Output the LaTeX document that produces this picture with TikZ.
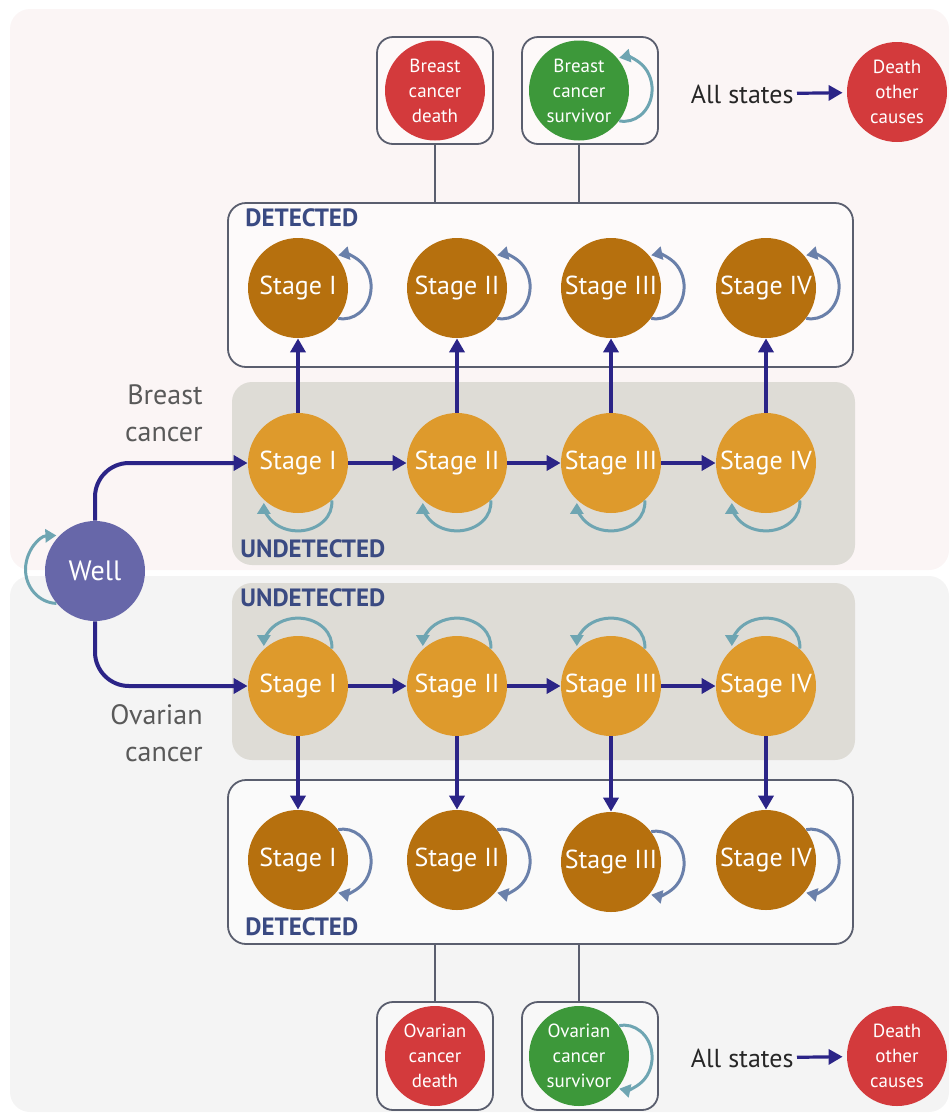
\documentclass[tikz,border=0pt]{standalone}
\usepackage{fontspec}
\setmainfont{PT Sans}
\usetikzlibrary{arrows.meta, positioning, shapes.geometric}

\definecolor{navy}{HTML}{2B2487}
\definecolor{detfill}{HTML}{B6700E}
\definecolor{undfill}{HTML}{DE9A2C}
\definecolor{wellfill}{HTML}{6767A9}
\definecolor{deadred}{HTML}{D33A3C}
\definecolor{survgreen}{HTML}{3D983A}
\definecolor{loopblue}{HTML}{6A80AA}
\definecolor{loopteal}{HTML}{6EA5B2}
\definecolor{labelblue}{HTML}{3A4A82}
\definecolor{boxline}{HTML}{5A5E6E}
\definecolor{undbox}{HTML}{DEDCD6}
\definecolor{pinkbg}{HTML}{FBF5F5}
\definecolor{greybg}{HTML}{F4F4F4}

\tikzstyle{arrow} = [line width=2pt, navy, -{Triangle[length=7pt,width=7.5pt]}]
\tikzstyle{selfloop} = [line width=1.5pt, loopblue, -{Triangle[length=5.5pt,width=6.5pt]}]
\tikzstyle{selfloop_T} = [selfloop, loopteal]
\tikzstyle{detected} = [
    circle, minimum size=50pt, inner sep=0pt, fill=detfill,
    text=white, font=\fontsize{13}{16}\selectfont
]
\tikzstyle{undetected} = [detected, fill=undfill]
\tikzstyle{outcome} = [
    circle, minimum size=50pt, inner sep=0pt, fill=deadred, align=center,
    text=white, font=\fontsize{9.5}{12.5}\selectfont
]
\tikzstyle{outcome_S} = [outcome, fill=survgreen]
\tikzstyle{stagebox} = [rectangle, rounded corners=9pt, draw=boxline, line width=0.9pt]
\tikzstyle{outbox} = [rectangle, rounded corners=8pt, draw=boxline, line width=0.9pt, fill=white!40!pinkbg]
\tikzstyle{undframe} = [rectangle, rounded corners=10pt, fill=undbox]
\tikzstyle{boxlabel} = [anchor=west, inner sep=0pt, text=labelblue, font=\fontsize{12.5}{14}\selectfont\bfseries]
\tikzstyle{cancerlabel} = [anchor=east, align=right, inner sep=0pt, text=black!65, font=\fontsize{14}{18.5}\selectfont]
\tikzstyle{tieline} = [line width=0.9pt, boxline]
\tikzstyle{allstates} = [anchor=east, inner sep=1.5pt, text=black!85, font=\fontsize{13}{15}\selectfont]

\begin{document}
\begin{tikzpicture}[x=0.5pt, y=0.5pt]
\useasboundingbox (0,0) rectangle (949,-1115);
% Fundos
\fill[pinkbg, rounded corners=10pt] (10,-9) rectangle (949,-570);
\fill[greybg, rounded corners=10pt] (10,-576) rectangle (949,-1112);

% Caixas
\node (TD_box) [stagebox, fill=white!50!pinkbg, minimum width=312.5pt, minimum height=82pt] at (540.5,-285) {};
\node (TU_box) [undframe, minimum width=311.5pt, minimum height=91.5pt] at (543.5,-473.5) {};
\node (BU_box) [undframe, minimum width=311.5pt, minimum height=88.5pt] at (543.5,-671.5) {};
\node (BD_box) [stagebox, fill=white!50!greybg, minimum width=312.5pt, minimum height=82pt] at (540.5,-862) {};
\node (TD_tag) [boxlabel] at (245,-218) {DETECTED};
\node (TU_tag) [boxlabel] at (240,-549) {UNDETECTED};
\node (BU_tag) [boxlabel] at (240,-598) {UNDETECTED};
\node (BD_tag) [boxlabel] at (245,-927) {DETECTED};

% Estados
\node (Well) [detected, fill=wellfill, font=\fontsize{14}{16}\selectfont] at (95,-571) {Well};
\node (BC_lbl) [cancerlabel] at (203,-413) {Breast\\cancer};
\node (OC_lbl) [cancerlabel] at (203,-733) {Ovarian\\cancer};

\node (TD_1) [detected] at (298,-288) {Stage I};
\node (TD_2) [detected] at (457,-288) {Stage II};
\node (TD_3) [detected] at (611,-288) {Stage III};
\node (TD_4) [detected] at (766,-288) {Stage IV};
\node (TU_1) [undetected] at (298,-463) {Stage I};
\node (TU_2) [undetected] at (457,-463) {Stage II};
\node (TU_3) [undetected] at (611,-463) {Stage III};
\node (TU_4) [undetected] at (766,-463) {Stage IV};
\node (BU_1) [undetected] at (298,-686) {Stage I};
\node (BU_2) [undetected] at (457,-686) {Stage II};
\node (BU_3) [undetected] at (611,-686) {Stage III};
\node (BU_4) [undetected] at (766,-686) {Stage IV};
\node (BD_1) [detected] at (298,-860) {Stage I};
\node (BD_2) [detected] at (457,-860) {Stage II};
\node (BD_3) [detected] at (611,-862) {Stage III};
\node (BD_4) [detected] at (766,-860) {Stage IV};

% Desfechos
\node (BCD_box) [outbox, minimum width=58pt, minimum height=53.5pt] at (435,-90.5) {};
\node (BCS_box) [outbox, minimum width=68pt, minimum height=53.5pt] at (590,-90.5) {};
\node (BCD) [outcome] at (435,-90.5) {Breast\\cancer\\death};
\node (BCS) [outcome_S] at (579,-90.5) {Breast\\cancer\\survivor};
\node (DOC_1) [outcome] at (897,-92) {Death\\other\\causes};
\node (All_1) [allstates] at (797,-94) {All states};

\node (OCD_box) [outbox, fill=white!40!greybg, minimum width=58pt, minimum height=54pt] at (435,-1056) {};
\node (OCS_box) [outbox, fill=white!40!greybg, minimum width=68pt, minimum height=54pt] at (590,-1056) {};
\node (OCD) [outcome] at (435,-1056) {Ovarian\\cancer\\death};
\node (OCS) [outcome_S] at (579,-1056) {Ovarian\\cancer\\survivor};
\node (DOC_2) [outcome] at (897,-1056) {Death\\other\\causes};
\node (All_2) [allstates] at (797,-1058) {All states};

% Ligacoes
\draw [tieline] (BCD.center |- BCD_box.south) -- (BCD.center |- TD_box.north);
\draw [tieline] (BCS.center |- BCS_box.south) -- (BCS.center |- TD_box.north);
\draw [tieline] (OCD.center |- BD_box.south) -- (OCD.center |- OCD_box.north);
\draw [tieline] (OCS.center |- BD_box.south) -- (OCS.center |- OCS_box.north);
\draw [arrow, line width=1.6pt, shorten >=2pt] (All_1) -- (DOC_1);
\draw [arrow, line width=1.6pt, shorten >=2pt] (All_2) -- (DOC_2);

\draw [arrow, rounded corners=17pt] (Well.north) |- (TU_1.west);
\draw [arrow, rounded corners=17pt] (Well.south) |- (BU_1.west);
\draw [arrow] (TU_1) -- (TU_2);
\draw [arrow] (TU_2) -- (TU_3);
\draw [arrow] (TU_3) -- (TU_4);
\draw [arrow] (BU_1) -- (BU_2);
\draw [arrow] (BU_2) -- (BU_3);
\draw [arrow] (BU_3) -- (BU_4);
\draw [arrow] (TU_1) -- (TD_1);
\draw [arrow] (TU_2) -- (TD_2);
\draw [arrow] (TU_3) -- (TD_3);
\draw [arrow] (TU_4) -- (TD_4);
\draw [arrow] (BU_1) -- (BD_1);
\draw [arrow] (BU_2) -- (BD_2);
\draw [arrow] (BU_3) -- (BD_3);
\draw [arrow] (BU_4) -- (BD_4);

% Permanencia
\draw [selfloop_T] (Well.-140) arc[start angle=-92, end angle=-268, x radius=16pt, y radius=17pt];
\draw [selfloop_T] (BCS.-37) arc[start angle=-100, end angle=100, x radius=14pt, y radius=16pt];
\draw [selfloop_T] (OCS.37) arc[start angle=100, end angle=-100, x radius=14pt, y radius=16pt];
\draw [selfloop] (TD_1.-37) arc[start angle=-100, end angle=100, x radius=14pt, y radius=16pt];
\draw [selfloop] (TD_2.-37) arc[start angle=-100, end angle=100, x radius=14pt, y radius=16pt];
\draw [selfloop] (TD_3.-37) arc[start angle=-100, end angle=100, x radius=14pt, y radius=16pt];
\draw [selfloop] (TD_4.-37) arc[start angle=-100, end angle=100, x radius=14pt, y radius=16pt];
\draw [selfloop_T] (TU_1.-48) arc[start angle=5, end angle=-180, x radius=17pt, y radius=14pt];
\draw [selfloop_T] (TU_2.-48) arc[start angle=5, end angle=-180, x radius=17pt, y radius=14pt];
\draw [selfloop_T] (TU_3.-48) arc[start angle=5, end angle=-180, x radius=17pt, y radius=14pt];
\draw [selfloop_T] (TU_4.-48) arc[start angle=5, end angle=-180, x radius=17pt, y radius=14pt];
\draw [selfloop_T] (BU_1.48) arc[start angle=-5, end angle=180, x radius=17pt, y radius=14pt];
\draw [selfloop_T] (BU_2.48) arc[start angle=-5, end angle=180, x radius=17pt, y radius=14pt];
\draw [selfloop_T] (BU_3.48) arc[start angle=-5, end angle=180, x radius=17pt, y radius=14pt];
\draw [selfloop_T] (BU_4.48) arc[start angle=-5, end angle=180, x radius=17pt, y radius=14pt];
\draw [selfloop] (BD_1.37) arc[start angle=100, end angle=-100, x radius=14pt, y radius=16pt];
\draw [selfloop] (BD_2.37) arc[start angle=100, end angle=-100, x radius=14pt, y radius=16pt];
\draw [selfloop] (BD_3.37) arc[start angle=100, end angle=-100, x radius=14pt, y radius=16pt];
\draw [selfloop] (BD_4.37) arc[start angle=100, end angle=-100, x radius=14pt, y radius=16pt];

\end{tikzpicture}
\end{document}
